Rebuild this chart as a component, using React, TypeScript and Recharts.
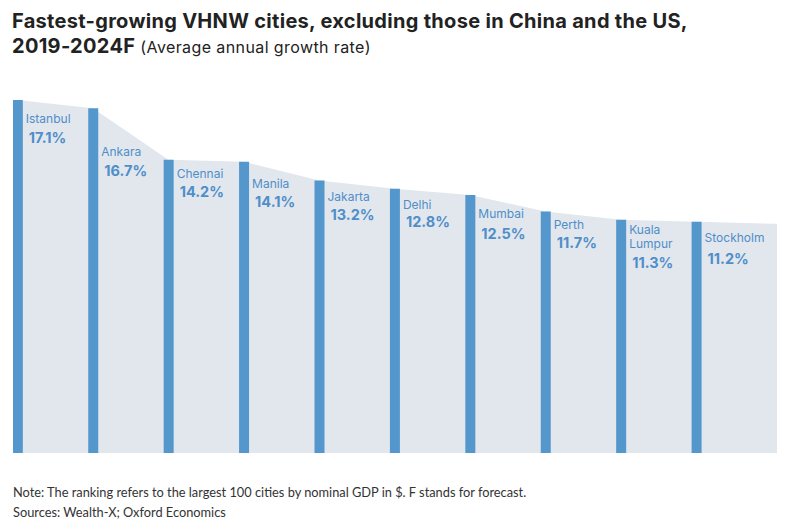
import React from 'react';
import { ComposedChart, Area, Bar, XAxis, YAxis, LabelList } from 'recharts';

const CITIES = ['Istanbul', 'Ankara', 'Chennai', 'Manila', 'Jakarta', 'Delhi', 'Mumbai', 'Perth', 'Kuala Lumpur', 'Stockholm'];
const GROWTH = [17.1, 16.7, 14.2, 14.1, 13.2, 12.8, 12.5, 11.7, 11.3, 11.2];
// the shaded band runs a little past the last bar
const AREA_END = 11.1;
const X_MAX = 10.07;

// label offsets below each bar top (name, value), px
const NAME_DY = [19, 43, 14, 22, 16, 16, 19, 13, 9.5, 16];
const VALUE_DY = [38, 62, 32, 40, 34, 33, 39, 31, 43, 37];

const BAR_COLOR = '#5397cc';
const AREA_COLOR = '#e2e7ee';
const LABEL_COLOR = '#4f8ec8';
const FONT = 'Inter, "Open Sans", sans-serif';

const barData = CITIES.map((name, i) => ({ x: i, name, value: GROWTH[i] }));
const areaData = [...CITIES.map((_, i) => ({ x: i, area: GROWTH[i] })), { x: X_MAX, area: AREA_END }];

const CityLabel = (props: any) => {
    const { x, y, width, index } = props;
    const left = x + width + 3;
    const lines = CITIES[index].split(' ');
    return (
        <g fontFamily={FONT} fill={LABEL_COLOR}>
            {lines.map((l, k) => (
                <text key={k} x={left} y={y + NAME_DY[index] + k * 14.5} fontSize={12} dominantBaseline="central">{l}</text>
            ))}
            <text x={left + 3} y={y + VALUE_DY[index]} fontSize={14.5} fontWeight={700} dominantBaseline="central">
                {GROWTH[index].toFixed(1)}%
            </text>
        </g>
    );
};

export default function App() {
    return (
        <div style={{ position: 'absolute', left: 0, top: 0, width: 791, height: 531, background: '#fff', fontFamily: FONT }}>
            <div style={{ position: 'absolute', left: 12, top: 9, fontSize: 20, letterSpacing: 0.3, fontWeight: 700, color: '#222', lineHeight: '25px', whiteSpace: 'nowrap' }}>
                Fastest-growing VHNW cities, excluding those in China and the US,
                <br />
                2019-2024F <span style={{ fontWeight: 400, fontSize: 16, letterSpacing: 0.4 }}>(Average annual growth rate)</span>
            </div>
            <div style={{ position: 'absolute', left: 0, top: 0 }}>
                <ComposedChart width={791} height={460} data={barData} margin={{ top: 40, right: 14, bottom: 7, left: 13 }}>
                    <XAxis type="number" dataKey="x" domain={[-0.06, X_MAX]} hide allowDataOverflow />
                    <YAxis type="number" domain={[0, 20]} hide />
                    <Area data={areaData} dataKey="area" type="linear" stroke="none" fill={AREA_COLOR} fillOpacity={1} isAnimationActive={false} />
                    <Bar dataKey="value" barSize={10} fill={BAR_COLOR} isAnimationActive={false}>
                        <LabelList dataKey="value" content={CityLabel} />
                    </Bar>
                </ComposedChart>
            </div>
            <div style={{ position: 'absolute', left: 13, top: 482, fontSize: 12.8, color: '#333', fontFamily: 'Lato, sans-serif', lineHeight: '20px' }}>
                Note: The ranking refers to the largest 100 cities by nominal GDP in $. F stands for forecast.
                <br />
                Sources: Wealth-X; Oxford Economics
            </div>
        </div>
    );
}
